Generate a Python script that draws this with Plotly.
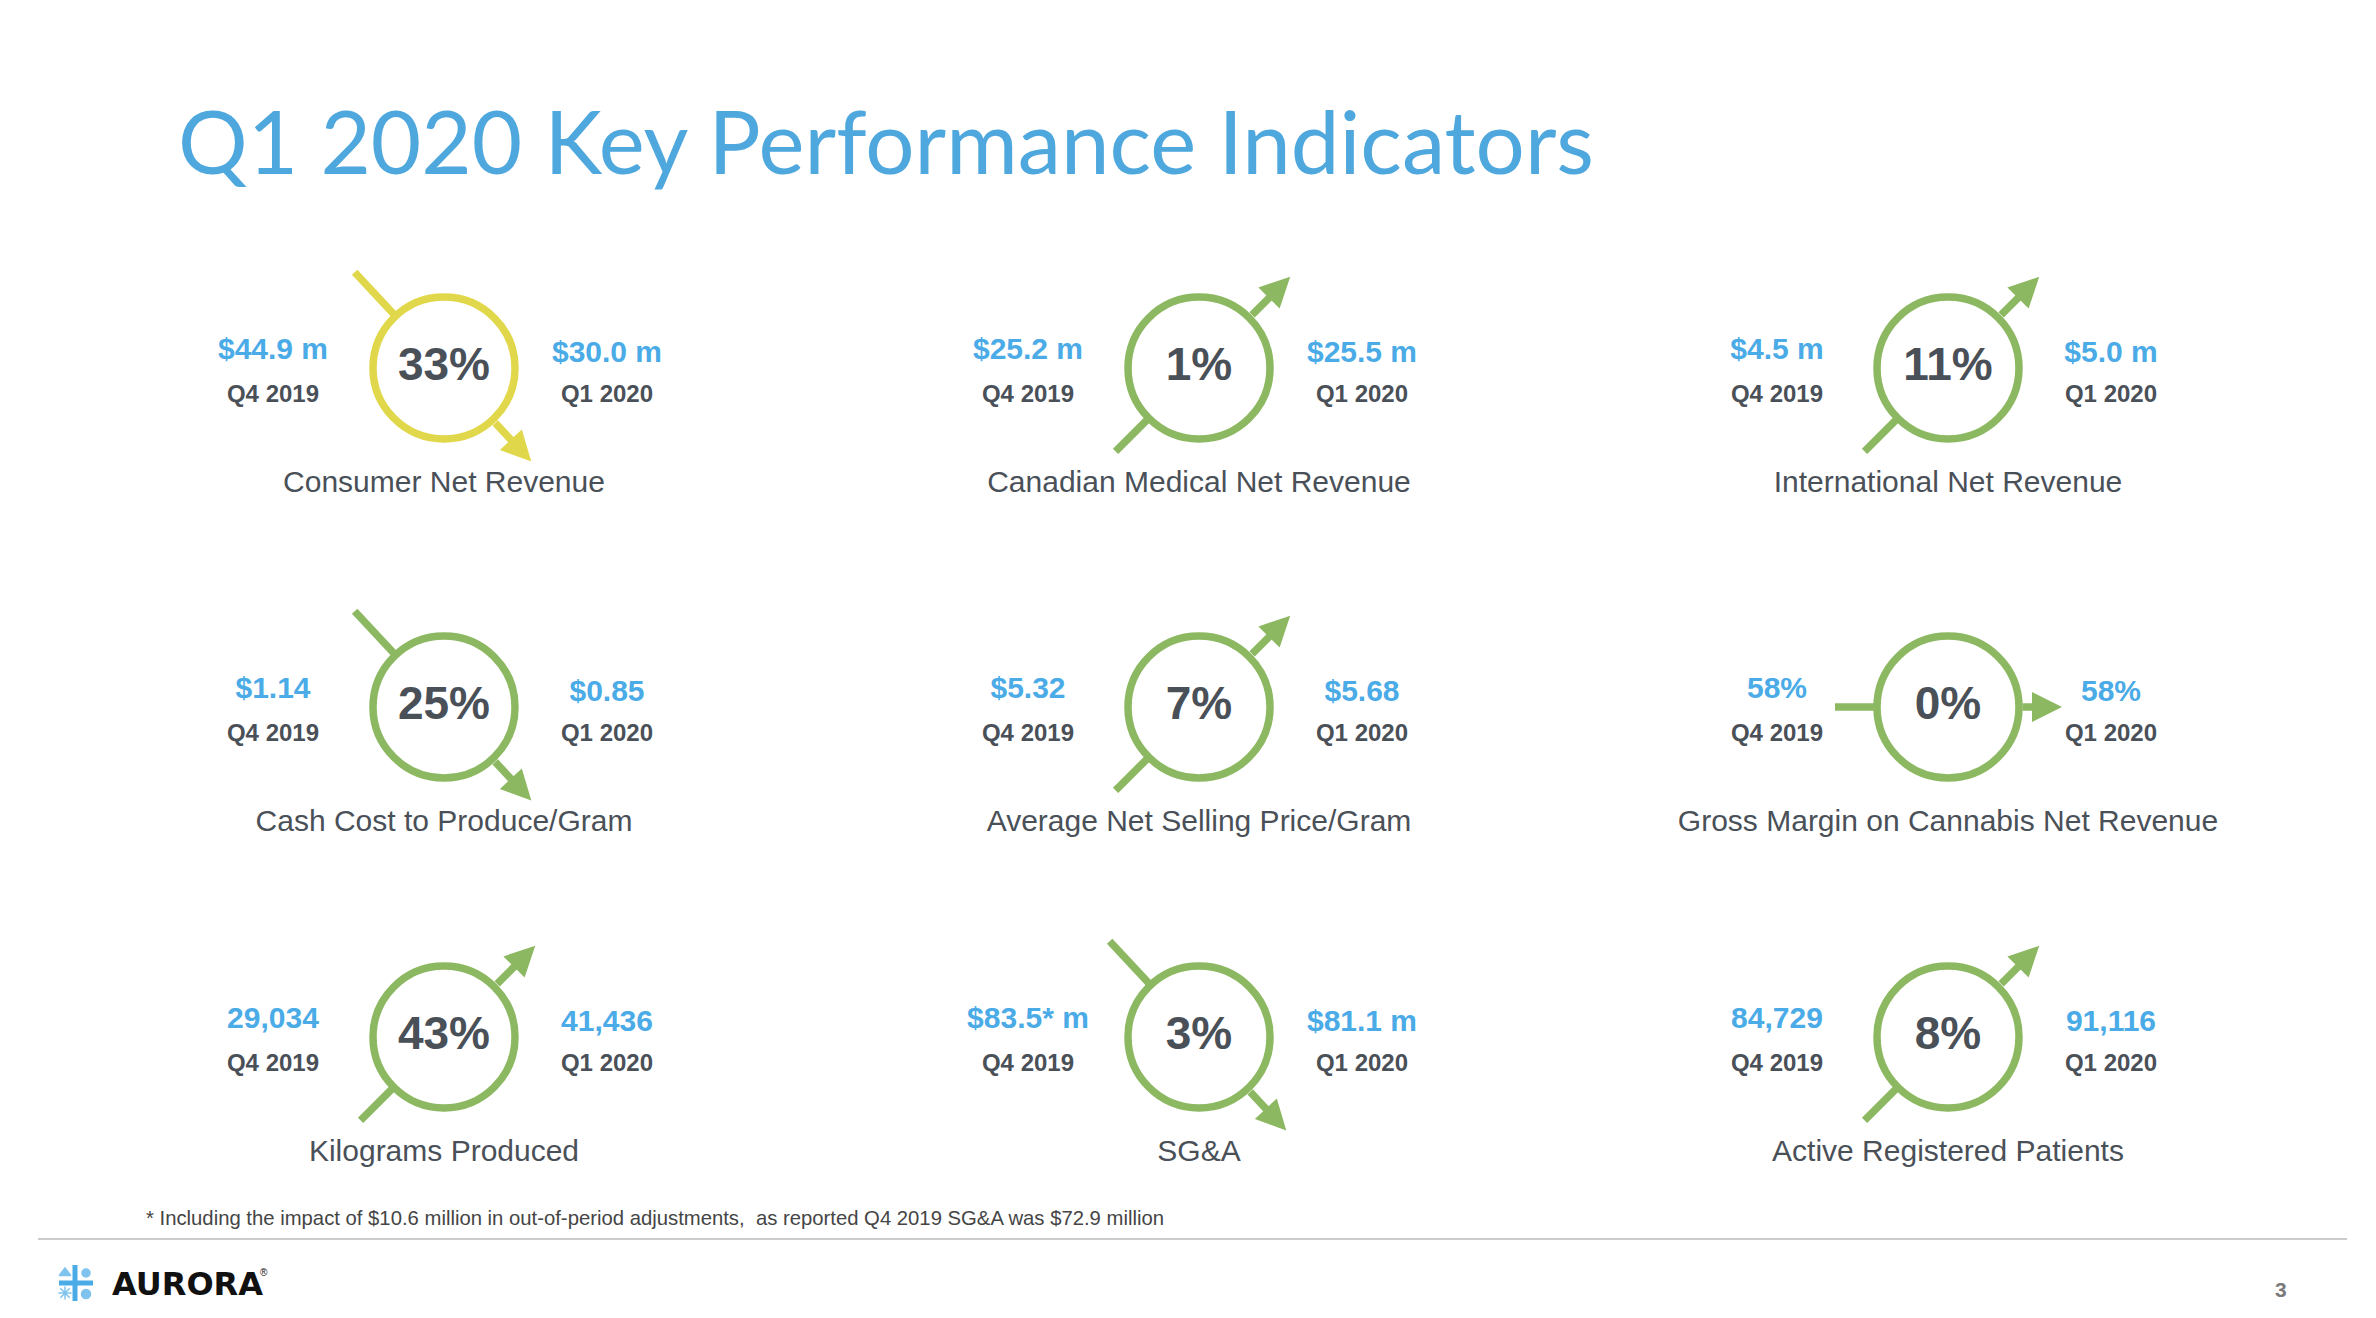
import math
import plotly.graph_objects as go

# KPI values, row by row, left to right
kpi_names = [
    "Consumer Net Revenue", "Canadian Medical Net Revenue", "International Net Revenue",
    "Cash Cost to Produce/Gram", "Average Net Selling Price/Gram", "Gross Margin on Cannabis Net Revenue",
    "Kilograms Produced", "SG&A", "Active Registered Patients",
]
q4_values = ["$44.9 m", "$25.2 m", "$4.5 m", "$1.14", "$5.32", "58%", "29,034", "$83.5* m", "84,729"]
q1_values = ["$30.0 m", "$25.5 m", "$5.0 m", "$0.85", "$5.68", "58%", "41,436", "$81.1 m", "91,116"]
pct_change = ["33%", "1%", "11%", "25%", "7%", "0%", "43%", "3%", "8%"]
direction = ["down", "up", "up", "down", "up", "flat", "up", "down", "up"]
favourable = [False, True, True, True, True, True, True, True, True]

prev_label = "Q4 2019"
curr_label = "Q1 2020"
title_text = "Q1 2020 Key Performance Indicators"
footnote = ("* Including the impact of $10.6 million in out-of-period adjustments,  "
            "as reported Q4 2019 SG&A was $72.9 million")
page_no = "3"

# page layout (pixels); the page body has an 8px margin, so the axes are offset by it
W, H = 2376, 1318
PAD = 8
col_x = [444, 1199, 1948]
row_y = [368, 707, 1037]

TITLE_BLUE = "#4ea7dd"
BLUE = "#4aabe7"
DARK = "#4a5058"
GREEN = "#8cb862"
YELLOW = "#e0d84a"
SANS = "Liberation Sans, Arial, sans-serif"

# arrow geometry per direction: angle (deg, screen y down), tail start dist, tip dist
arrow_geom = {
    "down": (47, 131, 128),
    "up": (-45, 118, 129),
    "flat": (0, 113, 114),
}
ring_edge = 73

cx = [col_x[i % 3] for i in range(len(kpi_names))]
cy = [row_y[i // 3] for i in range(len(kpi_names))]
colors = [GREEN if f else YELLOW for f in favourable]

fig = go.Figure()
annotations = []

# arrow tails (hidden inside the ring by the white circle drawn on top)
for x0, y0, d, c in zip(cx, cy, direction, colors):
    ang, start, tip = arrow_geom[d]
    dx, dy = math.cos(math.radians(ang)), math.sin(math.radians(ang))
    fig.add_trace(go.Scatter(
        x=[x0 - dx * start, x0], y=[y0 - dy * start, y0], mode="lines",
        line=dict(color=c, width=7.5), hoverinfo="skip", showlegend=False,
    ))
    annotations.append(dict(
        x=x0 + dx * tip, y=y0 + dy * tip, ax=x0 + dx * ring_edge, ay=y0 + dy * ring_edge,
        xref="x", yref="y", axref="x", ayref="y", text="", showarrow=True,
        arrowhead=2, arrowsize=0.8, arrowwidth=7.5, arrowcolor=c,
    ))

# rings with the percent change
fig.add_trace(go.Scatter(
    x=cx, y=cy, mode="markers+text", text=pct_change, textposition="middle center",
    marker=dict(size=142, color="white", line=dict(color=colors, width=7.5)),
    textfont=dict(family=SANS, size=46, color=DARK, weight="bold"),
    hoverinfo="skip", showlegend=False,
))

# previous / current values and their quarter labels
fig.add_trace(go.Scatter(
    x=[x - 171 for x in cx], y=[y - 17 for y in cy], mode="text", text=q4_values,
    textfont=dict(family=SANS, size=30, color=BLUE, weight="bold"), hoverinfo="skip", showlegend=False,
))
fig.add_trace(go.Scatter(
    x=[x + 163 for x in cx], y=[y - 14 for y in cy], mode="text", text=q1_values,
    textfont=dict(family=SANS, size=30, color=BLUE, weight="bold"), hoverinfo="skip", showlegend=False,
))
fig.add_trace(go.Scatter(
    x=[x - 171 for x in cx] + [x + 163 for x in cx], y=[y + 28 for y in cy] * 2, mode="text",
    text=[prev_label] * len(cx) + [curr_label] * len(cx),
    textfont=dict(family=SANS, size=24, color=DARK, weight="bold"), hoverinfo="skip", showlegend=False,
))
fig.add_trace(go.Scatter(
    x=cx, y=[y + 116 for y in cy], mode="text", text=kpi_names,
    textfont=dict(family=SANS, size=30, color=DARK), hoverinfo="skip", showlegend=False,
))

# Aurora logo: blue cross with four small glyphs
fig.add_trace(go.Scatter(
    x=[75, 75, None, 59, 93], y=[1265, 1301, None, 1283, 1283], mode="lines",
    line=dict(color=BLUE, width=5), hoverinfo="skip", showlegend=False,
))
fig.add_trace(go.Scatter(
    x=[65, 86, 65, 86], y=[1273, 1273, 1293, 1294], mode="markers",
    marker=dict(symbol=["triangle-up", "circle", "asterisk-open", "circle"], size=[10, 8, 11, 9],
                color=BLUE, line=dict(color=BLUE, width=1.5)),
    hoverinfo="skip", showlegend=False,
))

annotations += [
    dict(x=176, y=140, xref="x", yref="y", text=title_text, showarrow=False, xanchor="left",
         yanchor="middle", font=dict(family="Lato, sans-serif", size=87, color=TITLE_BLUE)),
    dict(x=144, y=1218, xref="x", yref="y", text=footnote, showarrow=False, xanchor="left",
         yanchor="middle", font=dict(family=SANS, size=20.3, color="#454545")),
    dict(x=110, y=1284, xref="x", yref="y", text="AURORA", showarrow=False, xanchor="left",
         yanchor="middle", font=dict(family="DejaVu Sans", size=32, color="#111111", weight="bold")),
    dict(x=258, y=1272, xref="x", yref="y", text="®", showarrow=False, xanchor="left",
         yanchor="middle", font=dict(family=SANS, size=10, color="#111111")),
    dict(x=2281, y=1289, xref="x", yref="y", text=page_no, showarrow=False, xanchor="center",
         yanchor="middle", font=dict(family=SANS, size=21, color="#7a7a7a", weight="bold")),
]

fig.update_layout(
    width=W - 2 * PAD, height=H - 2 * PAD, margin=dict(l=0, r=0, t=0, b=0),
    paper_bgcolor="white", plot_bgcolor="white",
    xaxis=dict(range=[PAD, W - PAD], visible=False, fixedrange=True),
    yaxis=dict(range=[H - PAD, PAD], visible=False, fixedrange=True),
    shapes=[dict(type="line", xref="x", yref="y", x0=38, x1=2347, y0=1239, y1=1239,
                 line=dict(color="#cccccc", width=2))],
    annotations=annotations,
    showlegend=False,
)

fig.write_html("out.html")
